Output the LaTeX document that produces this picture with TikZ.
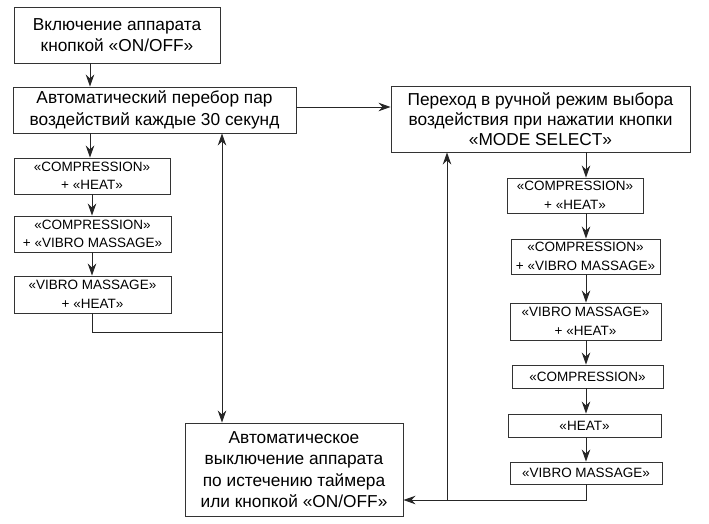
\documentclass[tikz,border=0pt]{standalone}
\usepackage{fontspec}
\setmainfont{Liberation Sans}
\usetikzlibrary{arrows.meta}
\begin{document}
\begin{tikzpicture}[x=1pt,y=-1pt,
  bigbox/.style={draw=black!80,line width=0.9pt,align=center,inner sep=0pt,
    font=\fontsize{17.3}{21.5}\selectfont},
  smallbox/.style={draw=black!80,line width=0.9pt,align=center,inner sep=0pt,
    font=\fontsize{13.5}{18.5}\selectfont},
  conn/.style={line width=0.9pt,black!85},
  arr/.style={conn,-{Stealth[length=12pt,width=8.5pt]}}]
\useasboundingbox (0,0) rectangle (709,524);
\node[bigbox,minimum width=206pt,minimum height=56pt] (b1) at (117,35) {Включение аппарата\\кнопкой «ON/OFF»};
\node[bigbox,minimum width=283pt,minimum height=46pt] (b2) at (154.5,110) {Автоматический перебор пар\\воздействий каждые 30 секунд};
\node[smallbox,minimum width=156pt,minimum height=36pt] (s1) at (92,176) {«COMPRESSION»\\+ «HEAT»};
\node[smallbox,minimum width=157pt,minimum height=36pt] (s2) at (92.5,234) {«COMPRESSION»\\+ «VIBRO MASSAGE»};
\node[smallbox,minimum width=157pt,minimum height=37pt] (s3) at (92.5,294.5) {«VIBRO MASSAGE»\\+ «HEAT»};
\node[bigbox,minimum width=218pt,minimum height=93pt] (b4) at (294,469.5) {Автоматическое\\выключение аппарата\\по истечению таймера\\или кнопкой «ON/OFF»};
\node[bigbox,minimum width=299pt,minimum height=66pt,font=\fontsize{17.3}{20}\selectfont] (b3) at (540.5,119) {Переход в ручной режим выбора\\воздействия при нажатии кнопки\\«MODE SELECT»};
\node[smallbox,minimum width=136pt,minimum height=35pt] (r1) at (575,195.5) {«COMPRESSION»\\+ «HEAT»};
\node[smallbox,minimum width=149pt,minimum height=35pt] (r2) at (585.5,256.5) {«COMPRESSION»\\+ «VIBRO MASSAGE»};
\node[smallbox,minimum width=151pt,minimum height=37pt] (r3) at (585.5,321.5) {«VIBRO MASSAGE»\\+ «HEAT»};
\node[smallbox,minimum width=151pt,minimum height=23pt] (r4) at (587.5,376.5) {«COMPRESSION»};
\node[smallbox,minimum width=153pt,minimum height=23pt] (r5) at (584.5,425.5) {«HEAT»};
\node[smallbox,minimum width=152pt,minimum height=22pt] (r6) at (586,473) {«VIBRO MASSAGE»};
\coordinate (j1) at (92,332);
\coordinate (j2) at (222,332);
\coordinate (j3) at (586,500);
\coordinate (j4) at (447,500);
% left chain
\draw[arr] (b1.south -| 90,0) -- (b2.north -| 90,0);
\draw[arr] (b2.south -| 90,0) -- (s1.north -| 90,0);
\draw[arr] (s1.south -| 92,0) -- (s2.north -| 92,0);
\draw[arr] (s2.south -| 92,0) -- (s3.north -| 92,0);
\draw[conn] (s3.south -| j1) -- (j1) -- (j2);
\draw[arr] (j2) -- (b2.south -| j2);
\draw[arr] (j2) -- (b4.north -| j2);
\draw[arr] (b2.east |- 0,107) -- (b3.west |- 0,107);
% right chain
\draw[arr] (b3.south -| j3) -- (r1.north -| j3);
\draw[arr] (r1.south -| j3) -- (r2.north -| j3);
\draw[arr] (r2.south -| j3) -- (r3.north -| j3);
\draw[arr] (r3.south -| j3) -- (r4.north -| j3);
\draw[arr] (r4.south -| j3) -- (r5.north -| j3);
\draw[arr] (r5.south -| j3) -- (r6.north -| j3);
\draw[arr] (r6.south -| j3) -- (j3) -- (b4.east |- j3);
\draw[arr] (j4) -- (b3.south -| j4);
\end{tikzpicture}
\end{document}
